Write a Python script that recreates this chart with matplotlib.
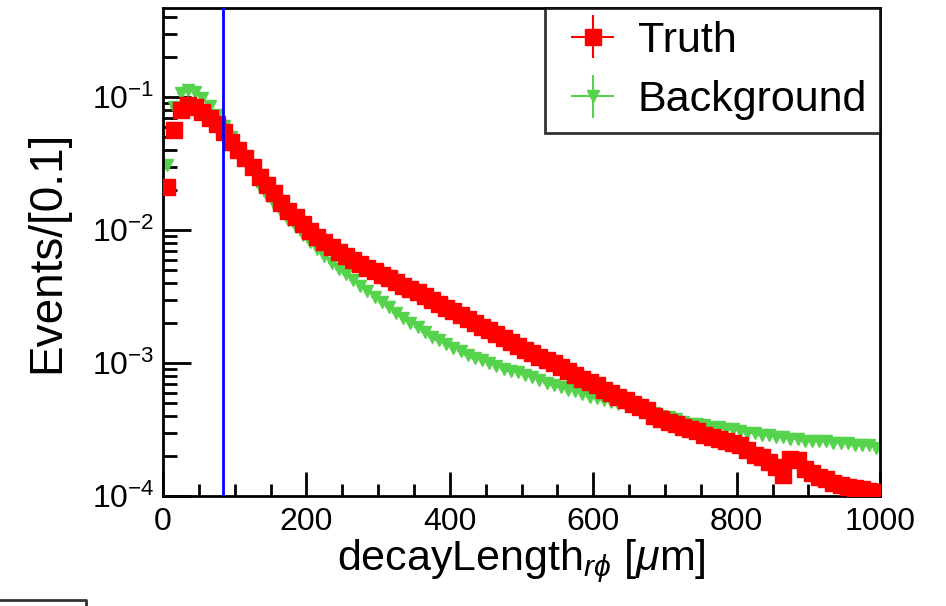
import numpy as np
import matplotlib
matplotlib.use("Agg")
import matplotlib.pyplot as plt
from matplotlib.lines import Line2D
from matplotlib.ticker import LogLocator, MultipleLocator

plt.rcParams['font.family'] = ['Liberation Sans', 'DejaVu Sans']
plt.rcParams['mathtext.fontset'] = 'custom'
plt.rcParams['mathtext.rm'] = 'Liberation Sans'
plt.rcParams['mathtext.it'] = 'Liberation Sans:italic'
plt.rcParams['mathtext.default'] = 'regular'

# 100 bins of 10 um between 0 and 1000 um
bin_width = 10.0
bin_centers = np.arange(5, 1000, 10)

truth = [
    0.021, 0.057, 0.080, 0.087, 0.084, 0.077, 0.070, 0.063, 0.055, 0.046,
    0.040, 0.035, 0.030, 0.025, 0.022, 0.019, 0.016, 0.014, 0.0126, 0.0112,
    0.0099, 0.0089, 0.0081, 0.0075, 0.0069, 0.0064, 0.0060, 0.0056, 0.0052, 0.0049,
    0.0046, 0.0044, 0.0041, 0.0038, 0.0036, 0.0034, 0.0032, 0.0030, 0.0028, 0.0026,
    0.00245, 0.0023, 0.00214, 0.0020, 0.00186, 0.00178, 0.00166, 0.00155, 0.00145, 0.00135,
    0.00126, 0.0012, 0.00112, 0.00105, 0.0010, 0.00093, 0.00087, 0.00081, 0.00076, 0.00072,
    0.00068, 0.00063, 0.00060, 0.00056, 0.00053, 0.00049, 0.00047, 0.00044, 0.00040, 0.00038,
    0.00036, 0.00035, 0.00033, 0.00032, 0.00031, 0.00029, 0.00028, 0.00027, 0.00026, 0.00025,
    0.00024, 0.00022, 0.000205, 0.000195, 0.00018, 0.000165, 0.000145, 0.00019, 0.000185, 0.00016,
    0.00015, 0.00014, 0.000135, 0.000125, 0.00012, 0.000117, 0.000114, 0.000112, 0.00011, 0.000107,
]

background = [
    0.031, 0.085, 0.108, 0.113, 0.109, 0.099, 0.086, 0.073, 0.061, 0.050,
    0.041, 0.034, 0.028, 0.021, 0.018, 0.0157, 0.0137, 0.0120, 0.0105, 0.0092,
    0.0081, 0.0072, 0.0064, 0.0057, 0.0051, 0.0047, 0.0042, 0.0038, 0.00347, 0.00316,
    0.00288, 0.00263, 0.0024, 0.00219, 0.0020, 0.00186, 0.0017, 0.00158, 0.00148, 0.00138,
    0.00129, 0.00123, 0.00115, 0.0011, 0.00105, 0.0010, 0.00095, 0.00091, 0.00087, 0.00085,
    0.00081, 0.00078, 0.00074, 0.00071, 0.00069, 0.00066, 0.00063, 0.00062, 0.00059, 0.00056,
    0.00055, 0.00053, 0.00051, 0.00049, 0.00048, 0.00046, 0.00045, 0.00043, 0.00042, 0.00040,
    0.00039, 0.00038, 0.00036, 0.00035, 0.00035, 0.00034, 0.00033, 0.00033, 0.00032, 0.00032,
    0.00031, 0.00030, 0.00030, 0.00029, 0.00029, 0.00028, 0.00028, 0.00027, 0.00027, 0.00026,
    0.00026, 0.00026, 0.00026, 0.00025, 0.00025, 0.00025, 0.00024, 0.00024, 0.00024, 0.00023,
]

cut_value = 83

fig = plt.figure(figsize=(9.46, 6.06), dpi=100)
ax = fig.add_axes([0.1723, 0.1815, 0.7580, 0.8055])

# yerr=0 keeps the vertical bar in the legend key (ROOT-style cross)
ax.errorbar(bin_centers, background, xerr=bin_width / 2, yerr=0, fmt='v', color='#55d34c',
            ms=9, elinewidth=1.5, capsize=0, label='Background', zorder=2)
ax.errorbar(bin_centers, truth, xerr=bin_width / 2, yerr=0, fmt='s', color='#ff0000',
            ms=11, elinewidth=1.5, capsize=0, label='Truth', zorder=3)
ax.axvline(cut_value, color='#0000ff', lw=2, zorder=4)

ax.set_yscale('log')
ax.set_xlim(0, 1000)
ax.set_ylim(1e-4, 0.47)

ax.xaxis.set_major_locator(MultipleLocator(200))
ax.xaxis.set_minor_locator(MultipleLocator(50))
ax.yaxis.set_major_locator(LogLocator(base=10, numticks=10))
ax.yaxis.set_minor_locator(LogLocator(base=10, subs=np.arange(2, 10), numticks=20))

ax.tick_params(axis='both', which='both', direction='in', top=False, right=False,
               width=2, labelsize=23, colors='black')
ax.tick_params(axis='x', which='major', length=17, pad=8)
ax.tick_params(axis='x', which='minor', length=9)
ax.tick_params(axis='y', which='major', length=20, pad=6)
ax.tick_params(axis='y', which='minor', length=10)
for side in ax.spines.values():
    side.set_linewidth(2)

ax.set_xlabel(r'decayLength$_{\mathit{r\phi}}$ [$\mathit{\mu}$m]', fontsize=31, labelpad=0)
ax.set_ylabel('Events/[0.1]', fontsize=33, labelpad=16)

handles, labels = ax.get_legend_handles_labels()
leg = ax.legend(handles[::-1], labels[::-1], loc='upper right', fontsize=31,
                frameon=True, fancybox=False, edgecolor='black', borderaxespad=0,
                handlelength=1.6, handletextpad=0.25, borderpad=0.3, labelspacing=0.45)
leg.get_frame().set_linewidth(2)

# leftover frame edge in the lower-left corner
fig.add_artist(Line2D([0, 86 / 946, 86 / 946], [6 / 606, 6 / 606, 0],
                      transform=fig.transFigure, color='#333333', lw=2))

fig.savefig('out.png', dpi=100)
